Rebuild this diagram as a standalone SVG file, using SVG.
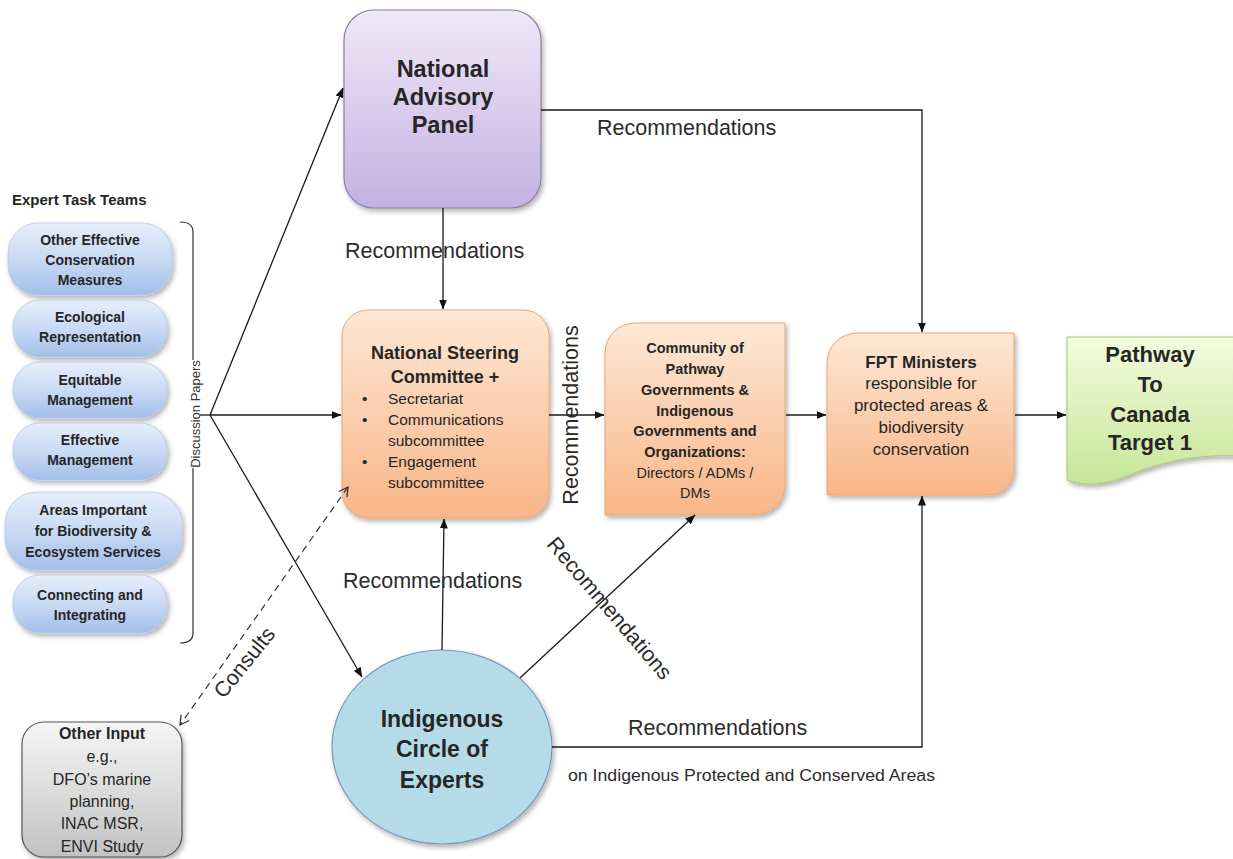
<svg xmlns="http://www.w3.org/2000/svg" width="1233" height="859" viewBox="0 0 1233 859">
<defs>
<linearGradient id="gPurple" x1="0" y1="0" x2="0" y2="1"><stop offset="0" stop-color="#efe9f8"/><stop offset="1" stop-color="#c4b0e2"/></linearGradient>
<linearGradient id="gOrange" x1="0" y1="0" x2="0" y2="1"><stop offset="0" stop-color="#fde8d6"/><stop offset="1" stop-color="#f8b687"/></linearGradient>
<linearGradient id="gBlue" x1="0" y1="0" x2="0" y2="1"><stop offset="0" stop-color="#e6eefb"/><stop offset="0.5" stop-color="#c9daf4"/><stop offset="1" stop-color="#a3bee9"/></linearGradient>
<linearGradient id="gGreen" x1="0" y1="0" x2="0" y2="1"><stop offset="0" stop-color="#f4fbdd"/><stop offset="1" stop-color="#c6e698"/></linearGradient>
<linearGradient id="gGrey" x1="0" y1="0" x2="0" y2="1"><stop offset="0" stop-color="#f6f6f6"/><stop offset="1" stop-color="#c2c2c2"/></linearGradient>
<filter id="sh" x="-10%" y="-10%" width="130%" height="130%"><feDropShadow dx="2" dy="3" stdDeviation="2.5" flood-color="#000" flood-opacity="0.3"/></filter>
<marker id="arr" markerWidth="10" markerHeight="8" refX="9.5" refY="4" orient="auto" markerUnits="userSpaceOnUse"><path d="M0,0 L10,4 L0,8 Z" fill="#111"/></marker>
<marker id="open" markerWidth="12" markerHeight="12" refX="10" refY="6" orient="auto-start-reverse" markerUnits="userSpaceOnUse"><path d="M1,1 L10,6 L1,11" fill="none" stroke="#333" stroke-width="1.3"/></marker>
<style>
text{font-family:"Liberation Sans",Arial,sans-serif;fill:#262626}
.b{font-weight:bold}
.pill{fill:url(#gBlue);stroke:#b5c8e8;stroke-width:0.8;filter:url(#sh)}
.pt{font-size:14px;font-weight:bold;text-anchor:middle}
.orange{fill:url(#gOrange);stroke:#e8a671;stroke-width:1;filter:url(#sh)}
.rec{font-size:21.5px;fill:#2b2b2b}
.ln{fill:none;stroke:#1a1a1a;stroke-width:1.3}
</style>
</defs>

<g id="expert-task-teams">
<text x="12" y="205" class="b" style="font-size:15px">Expert Task Teams</text>
<g id="ett-oecm"><rect class="pill" x="8" y="223" width="164" height="72" rx="30"/>
<text class="pt" x="90" y="245">Other Effective</text><text class="pt" x="90" y="265">Conservation</text><text class="pt" x="90" y="285">Measures</text></g>
<g id="ett-eco"><rect class="pill" x="13" y="300" width="154" height="57" rx="27"/>
<text class="pt" x="90" y="322">Ecological</text><text class="pt" x="90" y="342">Representation</text></g>
<g id="ett-equit"><rect class="pill" x="13" y="362" width="154" height="56" rx="27"/>
<text class="pt" x="90" y="385">Equitable</text><text class="pt" x="90" y="405">Management</text></g>
<g id="ett-effect"><rect class="pill" x="13" y="423" width="154" height="57" rx="27"/>
<text class="pt" x="90" y="445">Effective</text><text class="pt" x="90" y="465">Management</text></g>
<g id="ett-areas"><rect class="pill" x="5" y="492" width="177" height="78" rx="32"/>
<text class="pt" x="93" y="515">Areas Important</text><text class="pt" x="93" y="536">for Biodiversity &amp;</text><text class="pt" x="93" y="557">Ecosystem Services</text></g>
<g id="ett-connect"><rect class="pill" x="13" y="575" width="154" height="58" rx="27"/>
<text class="pt" x="90" y="600">Connecting and</text><text class="pt" x="90" y="620">Integrating</text></g>
<path d="M180,222 Q193,222 193,232 L193,405 Q193,415 200,415 Q193,415 193,425 L193,633 Q193,643 180,643" fill="none" stroke="#333" stroke-width="1.2"/>
<rect x="186" y="360" width="16" height="108" fill="#fff"/>
<text transform="translate(200,414) rotate(-90)" text-anchor="middle" style="font-size:13px;fill:#333">Discussion Papers</text>
</g>

<g id="nap"><rect x="344" y="10" width="197" height="198" rx="30" fill="url(#gPurple)" stroke="#8b7fa5" stroke-width="1.2" filter="url(#sh)"/>
<text class="b" x="443" y="77" text-anchor="middle" style="font-size:23.5px">National</text>
<text class="b" x="443" y="105" text-anchor="middle" style="font-size:23.5px">Advisory</text>
<text class="b" x="443" y="133" text-anchor="middle" style="font-size:23.5px">Panel</text></g>

<g id="nsc"><rect class="orange" x="342" y="310" width="207" height="208" rx="26"/>
<text class="b" x="445" y="359" text-anchor="middle" style="font-size:18px">National Steering</text>
<text class="b" x="445" y="383" text-anchor="middle" style="font-size:18px">Committee +</text>
<g style="font-size:15.5px"><text x="362" y="404">•</text><text x="388" y="404">Secretariat</text>
<text x="362" y="425">•</text><text x="388" y="425">Communications</text>
<text x="388" y="446">subcommittee</text>
<text x="362" y="467">•</text><text x="388" y="467">Engagement</text>
<text x="388" y="488">subcommittee</text></g></g>

<g id="community"><path class="orange" d="M605,353 A30,30 0 0 1 635,323 H785 V485 A30,30 0 0 1 755,515 H605 Z"/>
<g style="font-size:14.5px;font-weight:bold" text-anchor="middle">
<text x="695" y="353">Community of</text><text x="695" y="374">Pathway</text><text x="695" y="395">Governments &amp;</text><text x="695" y="416">Indigenous</text><text x="695" y="436">Governments and</text><text x="695" y="457">Organizations:</text></g>
<text x="695" y="478" text-anchor="middle" style="font-size:14.5px">Directors / ADMs /</text>
<text x="695" y="498" text-anchor="middle" style="font-size:14.5px">DMs</text></g>

<g id="fpt"><path class="orange" d="M827,363 A30,30 0 0 1 857,333 H1014 V470 A25,25 0 0 1 989,495 H827 Z"/>
<text class="b" x="921" y="368" text-anchor="middle" style="font-size:17px">FPT Ministers</text>
<g style="font-size:17px" text-anchor="middle"><text x="921" y="389">responsible for</text><text x="921" y="411">protected areas &amp;</text><text x="921" y="433">biodiversity</text><text x="921" y="455">conservation</text></g></g>

<g id="pathway"><path d="M1067,337 H1240 V456 C1195,454 1162,462 1132,474 C1106,485 1086,487 1067,480 Z" fill="url(#gGreen)" stroke="#a8c77a" stroke-width="1" filter="url(#sh)"/>
<g class="b" style="font-size:22px" text-anchor="middle"><text x="1150" y="362">Pathway</text><text x="1150" y="392">To</text><text x="1150" y="422">Canada</text><text x="1150" y="450">Target 1</text></g></g>

<g id="ice"><ellipse cx="442" cy="747" rx="110" ry="97" fill="#b5dbe8" stroke="#7d96bf" stroke-width="1.2" filter="url(#sh)"/>
<g class="b" style="font-size:23px" text-anchor="middle"><text x="442" y="727">Indigenous</text><text x="442" y="757">Circle of</text><text x="442" y="788">Experts</text></g></g>

<g id="other-input"><rect x="22" y="722" width="160" height="135" rx="22" fill="url(#gGrey)" stroke="#555" stroke-width="1.2" filter="url(#sh)"/>
<text class="b" x="102" y="739" text-anchor="middle" style="font-size:16px">Other Input</text>
<g style="font-size:16px" text-anchor="middle"><text x="102" y="762">e.g.,</text><text x="102" y="785">DFO’s marine</text><text x="102" y="807">planning,</text><text x="102" y="829">INAC MSR,</text><text x="102" y="852">ENVI Study</text></g></g>

<g id="connectors">
<path class="ln" d="M200,415 H210"/>
<path class="ln" d="M210,415 L343,88" marker-end="url(#arr)"/>
<path class="ln" d="M210,415 L341,415" marker-end="url(#arr)"/>
<path class="ln" d="M210,415 L362,677" marker-end="url(#arr)"/>
<path class="ln" d="M443,208 L443,309" marker-end="url(#arr)"/>
<path class="ln" d="M541,110 H922 V332" marker-end="url(#arr)"/>
<path class="ln" d="M549,415 L604,415" marker-end="url(#arr)"/>
<path class="ln" d="M786,415 L826,415" marker-end="url(#arr)"/>
<path class="ln" d="M1015,415 L1066,415" marker-end="url(#arr)"/>
<path class="ln" d="M442,650 L444,519" marker-end="url(#arr)"/>
<path class="ln" d="M520,678 L695,515" marker-end="url(#arr)"/>
<path class="ln" d="M552,747 H922 V496" marker-end="url(#arr)"/>
<path d="M348,487 L180,725" fill="none" stroke="#333" stroke-width="1.2" stroke-dasharray="7,5" marker-start="url(#open)" marker-end="url(#open)"/>
<text class="rec" x="345" y="258">Recommendations</text>
<text class="rec" x="597" y="135">Recommendations</text>
<text class="rec" transform="translate(578,415) rotate(-90)" text-anchor="middle">Recommendations</text>
<text class="rec" x="343" y="588">Recommendations</text>
<text class="rec" transform="translate(604,613) rotate(49.5)" text-anchor="middle">Recommendations</text>
<text class="rec" x="628" y="735">Recommendations</text>
<text x="568" y="781" style="font-size:16px;fill:#2b2b2b" textLength="367" lengthAdjust="spacingAndGlyphs">on Indigenous Protected and Conserved Areas</text>
<text class="rec" transform="translate(250,667) rotate(-51)" text-anchor="middle">Consults</text>
</g>
</svg>
